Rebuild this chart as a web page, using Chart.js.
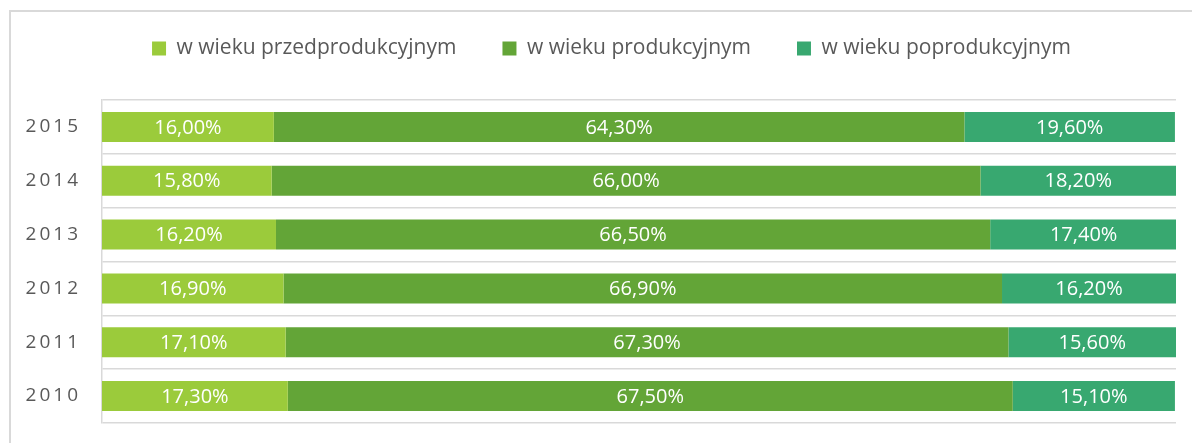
<!DOCTYPE html>
<html><head><meta charset="utf-8">
<script src="https://cdn.jsdelivr.net/npm/chart.js@4/dist/chart.umd.min.js"></script>
<style>
html,body{margin:0;padding:0;background:#fff;overflow:hidden;width:1192px;height:443px;}
#frame{position:absolute;left:9px;top:10px;width:1300px;height:600px;border:2px solid #d9d9d9;box-sizing:border-box;}
#c{position:absolute;left:9px;top:-8px;width:1208px;height:451px;}
</style></head><body>
<div id="frame"></div>
<canvas id="c" width="1208" height="451"></canvas>
<script>
const years = ['2015', '2014', '2013', '2012', '2011', '2010'];
const seriesNames = ['w wieku przedprodukcyjnym', 'w wieku produkcyjnym', 'w wieku poprodukcyjnym'];
const przedprodukcyjny = [16.0, 15.8, 16.2, 16.9, 17.1, 17.3];
const produkcyjny = [64.3, 66.0, 66.5, 66.9, 67.3, 67.5];
const poprodukcyjny = [19.6, 18.2, 17.4, 16.2, 15.6, 15.1];
const seriesColors = ['#9BCB3B', '#63A537', '#38A870'];

const fmt = v => v.toFixed(2).replace('.', ',') + '%';
const FONT = 'Open Sans';

const helper = {
  id: 'helper',
  beforeLayout(chart) {
    const lg = chart.legend;
    if (lg && !lg._patched) {
      const f = lg.fit;
      lg.fit = function () { f.call(this); this.height = 108; };
      const d = lg.draw;
      lg.draw = function (a) {
        const c = this.ctx; c.save(); c.translate(19, 0); d.call(this, a); c.restore();
      };
      lg._patched = true;
    }
  },
  beforeDraw(chart) {
    const s = chart.scales.y;
    if (s && !s._lsPatched) {
      const orig = s.drawLabels;
      s.drawLabels = function (a) {
        const c = this.ctx; const prev = c.letterSpacing;
        c.letterSpacing = '3px';
        orig.call(this, a);
        c.letterSpacing = prev || '0px';
      };
      s._lsPatched = true;
    }
  },
  afterDatasetsDraw(chart) {
    const ctx = chart.ctx;
    ctx.save();
    ctx.font = '20px "' + FONT + '"';
    ctx.fillStyle = '#ffffff';
    ctx.textAlign = 'center';
    ctx.textBaseline = 'middle';
    chart.data.datasets.forEach((ds, i) => {
      const meta = chart.getDatasetMeta(i);
      meta.data.forEach((el, j) => {
        const p = el.getProps(['x', 'y', 'base'], true);
        ctx.fillText(fmt(ds.data[j]), (p.x + p.base) / 2, p.y + 1);
      });
    });
    ctx.restore();
  }
};

new Chart(document.getElementById('c'), {
  type: 'bar',
  data: {
    labels: years,
    datasets: [
      { label: seriesNames[0], data: przedprodukcyjny, backgroundColor: seriesColors[0] },
      { label: seriesNames[1], data: produkcyjny, backgroundColor: seriesColors[1] },
      { label: seriesNames[2], data: poprodukcyjny, backgroundColor: seriesColors[2] }
    ]
  },
  options: {
    indexAxis: 'y',
    responsive: false,
    animation: false,
    devicePixelRatio: 1,
    datasets: { bar: { barPercentage: 0.557, categoryPercentage: 1, borderWidth: 0 } },
    layout: { padding: { left: 0, right: 41, top: 0, bottom: 20 } },
    plugins: {
      tooltip: { enabled: false },
      legend: {
        position: 'top',
        labels: {
          boxWidth: 14, boxHeight: 14, padding: 46,
          color: '#595959',
          font: { family: FONT, size: 21 }
        }
      }
    },
    scales: {
      x: { stacked: true, min: 0, max: 100, display: false },
      y: {
        stacked: true,
        grid: { color: '#d9d9d9', lineWidth: 1.5, drawTicks: false },
        border: { color: '#d9d9d9', width: 1.5 },
        ticks: { color: '#595959', font: { family: FONT, size: 19 }, padding: 21, autoSkip: false },
        afterFit(s) { s.width = 93; s.paddingTop = 0; s.paddingBottom = 0; }
      }
    }
  },
  plugins: [helper]
});
</script>
</body></html>
